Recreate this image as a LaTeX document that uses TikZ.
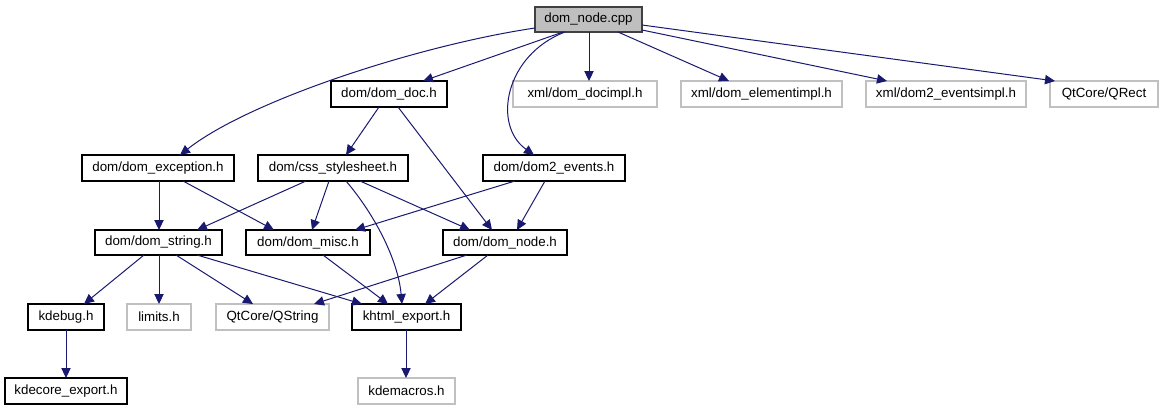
\documentclass[tikz,border=0pt]{standalone}
\usepackage{fontspec}
\setmainfont{Liberation Sans}
\usetikzlibrary{arrows.meta,calc}
\definecolor{edgecol}{HTML}{191970}
\definecolor{ltgray}{HTML}{C0C0C0}
\definecolor{fillgray}{HTML}{BFBFBF}
\definecolor{dkborder}{HTML}{404040}
\newcommand\bx[7]{\node[#1, minimum width={(#5-#3)*0.75pt}, minimum height={(#6-#4)*0.75pt}] (#2) at ({(#3+#5)/2},{(#4+#6)/2}) {#7};}
\begin{document}
\begin{tikzpicture}[x=0.75pt,y=-0.75pt,
  every node/.style={inner sep=0pt, outer sep=0pt, font=\fontsize{10pt}{12pt}\selectfont},
  docbox/.style={draw=black, line width=0.8pt, fill=white},
  undoc/.style={draw=ltgray, line width=0.8pt, fill=white},
  rootbox/.style={draw=dkborder, line width=0.8pt, fill=fillgray},
  edge/.style={draw=edgecol, line width=0.75pt, -{Triangle[length=7.5pt,width=7pt]}}]
\useasboundingbox (0,0) rectangle (1161,411);
\bx{rootbox}{cpp}{535}{7}{642}{32}{dom\_node.cpp}
\bx{docbox}{doc}{331}{81}{447}{107}{dom/dom\_doc.h}
\bx{undoc}{docimpl}{513}{81}{657}{107}{xml/dom\_docimpl.h}
\bx{undoc}{elementimpl}{681}{81}{842}{107}{xml/dom\_elementimpl.h}
\bx{undoc}{eventsimpl}{866}{81}{1026}{107}{xml/dom2\_eventsimpl.h}
\bx{undoc}{qrect}{1050}{81}{1158}{107}{QtCore/QRect}
\bx{docbox}{exception}{82}{155}{234}{181}{dom/dom\_exception.h}
\bx{docbox}{css}{258}{155}{408}{181}{dom/css\_stylesheet.h}
\bx{docbox}{events2}{483}{155}{625}{181}{dom/dom2\_events.h}
\bx{docbox}{string}{95}{230}{222}{255}{dom/dom\_string.h}
\bx{docbox}{misc}{246}{230}{370}{255}{dom/dom\_misc.h}
\bx{docbox}{nodeh}{443}{230}{567}{255}{dom/dom\_node.h}
\bx{docbox}{kdebug}{28}{304}{104}{330}{kdebug.h}
\bx{undoc}{limits}{127}{304}{191}{330}{limits.h}
\bx{undoc}{qstring}{216}{304}{329}{330}{QtCore/QString}
\bx{docbox}{khtml}{352}{304}{461}{330}{khtml\_export.h}
\bx{docbox}{kdecore}{5}{378}{127}{404}{kdecore\_export.h}
\bx{undoc}{kdemacros}{358}{378}{455}{404}{kdemacros.h}
% edges
\draw[edge] ($(cpp.south west)+(0,-4)$) .. controls (420,45) and (250,100) .. ($(exception.north west)+(98,0)$);
\draw[edge] ($(cpp.south west)+(28,0)$) -- ($(doc.north west)+(92,0)$);
\draw[edge] ($(cpp.south west)+(30,0)$) .. controls (505,55) and (492,125) .. ($(events2.north west)+(51,0)$);
\draw[edge] ($(cpp.south west)+(54,0)$) -- ($(docimpl.north west)+(76,0)$);
\draw[edge] ($(cpp.south west)+(83,0)$) -- ($(elementimpl.north west)+(48,0)$);
\draw[edge] ($(cpp.south east)+(0,-2)$) -- ($(eventsimpl.north west)+(21,0)$);
\draw[edge] ($(cpp.south east)+(0,-7)$) -- ($(qrect.north west)+(5,0)$);
\draw[edge] ($(doc.south west)+(48,0)$) -- ($(css.north west)+(88,0)$);
\draw[edge] ($(doc.south west)+(67,0)$) -- ($(nodeh.north west)+(49,0)$);
\draw[edge] ($(events2.south west)+(32,0)$) -- ($(misc.north west)+(109,0)$);
\draw[edge] ($(events2.south west)+(62,0)$) -- ($(nodeh.north west)+(74,0)$);
\draw[edge] ($(exception.south west)+(77,0)$) -- ($(string.north west)+(64,0)$);
\draw[edge] ($(exception.south west)+(101,0)$) -- ($(misc.north west)+(28,0)$);
\draw[edge] ($(css.south west)+(48,0)$) -- ($(string.north west)+(102,0)$);
\draw[edge] ($(css.south west)+(71,0)$) -- ($(misc.north west)+(66,0)$);
\draw[edge] ($(css.south west)+(88,0)$) .. controls (375,215) and (398,260) .. ($(khtml.north west)+(50,0)$);
\draw[edge] ($(css.south west)+(102,0)$) -- ($(nodeh.north west)+(27,0)$);
\draw[edge] ($(string.south west)+(49,0)$) -- ($(kdebug.north west)+(56,0)$);
\draw[edge] ($(string.south west)+(64,0)$) -- ($(limits.north west)+(32,0)$);
\draw[edge] ($(string.south west)+(81,0)$) -- ($(qstring.north west)+(37,0)$);
\draw[edge] ($(string.south west)+(102,0)$) -- ($(khtml.north west)+(10,0)$);
\draw[edge] ($(misc.south west)+(77,0)$) -- ($(khtml.north west)+(36,0)$);
\draw[edge] ($(nodeh.south west)+(24,0)$) -- ($(qstring.north west)+(98,0)$);
\draw[edge] ($(nodeh.south west)+(45,0)$) -- ($(khtml.north west)+(73,0)$);
\draw[edge] ($(khtml.south west)+(54,0)$) -- ($(kdemacros.north west)+(48,0)$);
\draw[edge] ($(kdebug.south west)+(38,0)$) -- ($(kdecore.north west)+(61,0)$);
\end{tikzpicture}
\end{document}
